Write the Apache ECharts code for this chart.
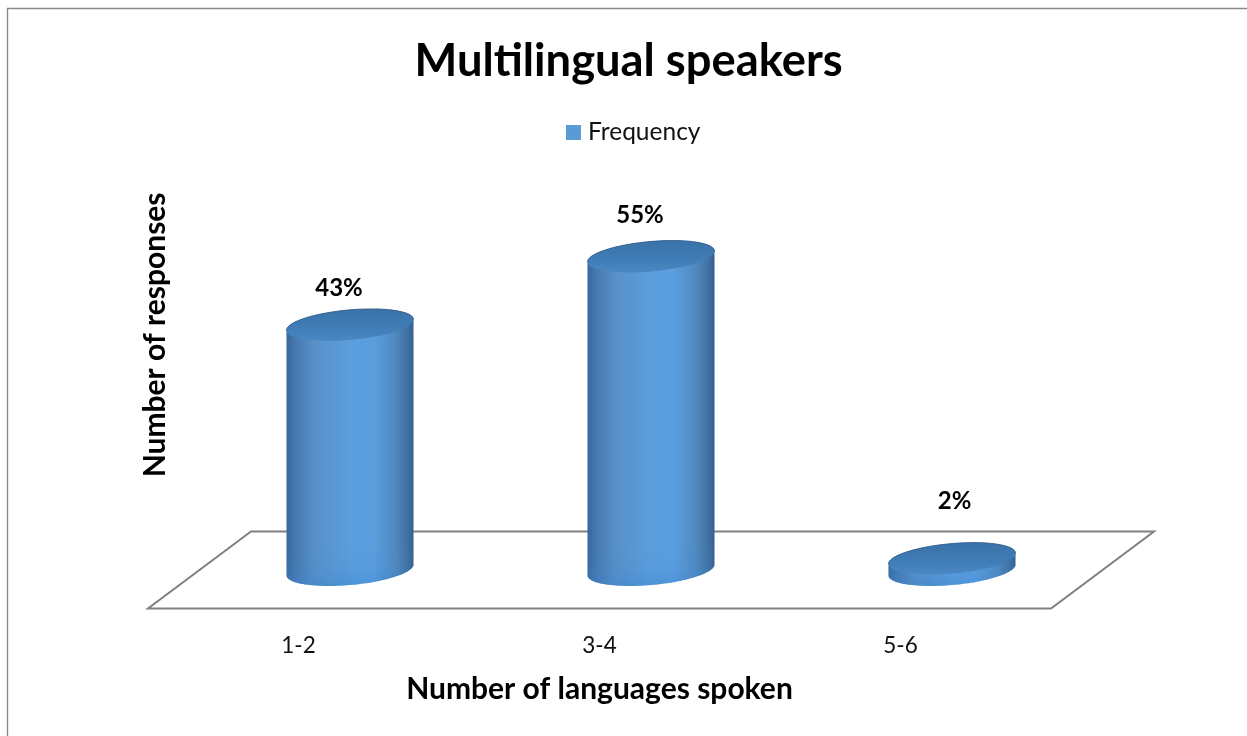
<!DOCTYPE html>
<html><head><meta charset="utf-8">
<style>html,body{margin:0;padding:0;background:#fff}#c{width:1247px;height:736px}</style>
<script src="https://cdn.jsdelivr.net/npm/echarts@6/dist/echarts.min.js"></script>
</head><body><div id="c"></div>
<script>
const categories = ['1-2', '3-4', '5-6'];
const frequency = [43, 55, 2];
const seriesName = 'Frequency';
const valueLabels = ['43%', '55%', '2%'];
// label nudges relative to the cap centre (style only, px)
const labelNudges = [[-11, -37], [-11, -41.5], [2.5, -57.6]];

const GRID = {left: 148, top: 61.3, width: 903, height: 547.2};
const DEPTH = {x: 103, y: -77};
const FONT = 'Lato, "Open Sans", sans-serif';

function ellipsePts(cx, cy, from, to, n) {
  // circle lying on the sheared floor: a=(59.8,0), b=(21.4,-16)
  const pts = [];
  for (let i = 0; i <= n; i++) {
    const t = from + (to - from) * i / n;
    pts.push([cx + 59.8 * Math.cos(t) + 21.4 * Math.sin(t), cy - 16 * Math.sin(t)]);
  }
  return pts;
}
const bodyFill = () => new echarts.graphic.LinearGradient(0, 0, 1, 0, [
  {offset: 0, color: '#37689c'}, {offset: 0.07, color: '#4679ae'}, {offset: 0.22, color: '#5890c8'},
  {offset: 0.5, color: '#5b9edd'}, {offset: 0.68, color: '#5b9fe0'}, {offset: 0.86, color: '#4f88bd'},
  {offset: 0.96, color: '#3f6f9f'}, {offset: 1, color: '#355f8c'}
]);

function renderFloor(params, api) {
  const cs = params.coordSys;
  const b = cs.y + cs.height;
  return {
    type: 'polygon', silent: true,
    shape: {points: [[cs.x, b], [cs.x + cs.width, b], [cs.x + cs.width + DEPTH.x, b + DEPTH.y], [cs.x + DEPTH.x, b + DEPTH.y]]},
    style: {fill: '#ffffff', stroke: '#808080', lineWidth: 2}
  };
}

function renderCylinder(params, api) {
  const i = params.dataIndex;
  const top = api.coord([api.value(0), api.value(1)]);
  const base = api.coord([api.value(0), 0]);
  const cx = top[0] + DEPTH.x / 2;
  const topY = top[1] + DEPTH.y / 2;
  const baseY = base[1] + DEPTH.y / 2;
  const t0 = Math.atan2(21.4, 59.8);
  const lower = ellipsePts(cx, baseY, t0 + Math.PI, t0 + 2 * Math.PI, 60);   // left → bottom → right
  const upper = ellipsePts(cx, topY, t0, t0 + Math.PI, 60);                   // right → top → left
  const n = labelNudges[i];
  return {
    type: 'group',
    children: [
      {type: 'polygon', shape: {points: lower.concat(upper)}, style: {fill: bodyFill()}},
      // soft saturated lip around the base
      {type: 'polygon', silent: true,
       shape: {points: lower.concat(ellipsePts(cx, baseY - Math.min(14, baseY - topY), t0, t0 + Math.PI, 60))},
       style: {fill: new echarts.graphic.LinearGradient(0, 0, 0, 1, [
         {offset: 0, color: 'rgba(60,135,210,0)'}, {offset: 0.6, color: 'rgba(60,135,210,0.12)'},
         {offset: 1, color: 'rgba(55,130,205,0.4)'}])}},
      // cap, fading into the body on its front rim
      {type: 'polygon', silent: true, shape: {points: ellipsePts(cx, topY, 0, 2 * Math.PI, 90)},
       style: {fill: new echarts.graphic.LinearGradient(0, 0, 0, 1, [
         {offset: 0, color: '#3a72a8'}, {offset: 0.55, color: '#3f7cb6'}, {offset: 1, color: '#4a88c4'}])}},
      // dark hair-line on the back rim only
      {type: 'polyline', silent: true, shape: {points: upper},
       style: {fill: 'none', stroke: '#2e5a86', lineWidth: 1, opacity: 0.8}},
      {type: 'text', silent: true, x: cx + n[0], y: topY + n[1],
       style: {text: valueLabels[i], font: 'bold 24px ' + FONT, fill: '#000', align: 'center', verticalAlign: 'middle'}}
    ]
  };
}

const chart = echarts.init(document.getElementById('c'), null, {renderer: 'canvas'});
chart.setOption({
  animation: false,
  backgroundColor: '#fff',
  title: {text: 'Multilingual speakers', left: 409.5, top: 34,
    textStyle: {fontFamily: FONT, fontWeight: 'bold', fontSize: 45.3, color: '#000'}},
  legend: {show: true, top: 115, left: 561, itemWidth: 15, itemHeight: 15, itemGap: 7,
    icon: 'rect', data: [{name: seriesName, itemStyle: {color: '#5b9bd5'}}],
    textStyle: {fontFamily: FONT, fontSize: 24.5, color: '#111', padding: [0, 0, 0, 2]}},
  grid: {left: GRID.left, top: GRID.top, width: GRID.width, height: GRID.height, containLabel: false},
  xAxis: {type: 'category', data: categories, name: 'Number of languages spoken', nameLocation: 'middle', nameGap: 66,
    nameTextStyle: {fontFamily: FONT, fontWeight: 'bold', fontSize: 30, color: '#000'},
    axisLine: {show: false}, axisTick: {show: false},
    axisLabel: {margin: 26, fontFamily: FONT, fontSize: 22.5, color: '#111'}},
  yAxis: {type: 'value', min: 0, max: 96, interval: 16, name: 'Number of responses', nameLocation: 'middle', nameGap: -7,
    nameRotate: 90,
    nameTextStyle: {fontFamily: FONT, fontWeight: 'bold', fontSize: 30, color: '#000', verticalAlign: 'middle', padding: 0},
    axisLine: {show: false}, axisTick: {show: false}, axisLabel: {show: false}, splitLine: {show: false}},
  series: [
    {type: 'custom', name: 'floor', silent: true, renderItem: renderFloor, data: [0], z: 1, encode: {x: -1, y: -1}},
    {type: 'custom', name: seriesName, renderItem: renderCylinder, z: 2,
     itemStyle: {color: '#5b9bd5'},
     data: frequency.map((v, i) => [i, v]), encode: {x: 0, y: 1}}
  ],
  graphic: [{type: 'polyline', silent: true, z: -1, shape: {points: [[7.5, 736], [7.5, 8.5], [1247, 8.5]]},
    style: {fill: 'none', stroke: '#8a8a8a', lineWidth: 1.4}}]
});
</script></body></html>
